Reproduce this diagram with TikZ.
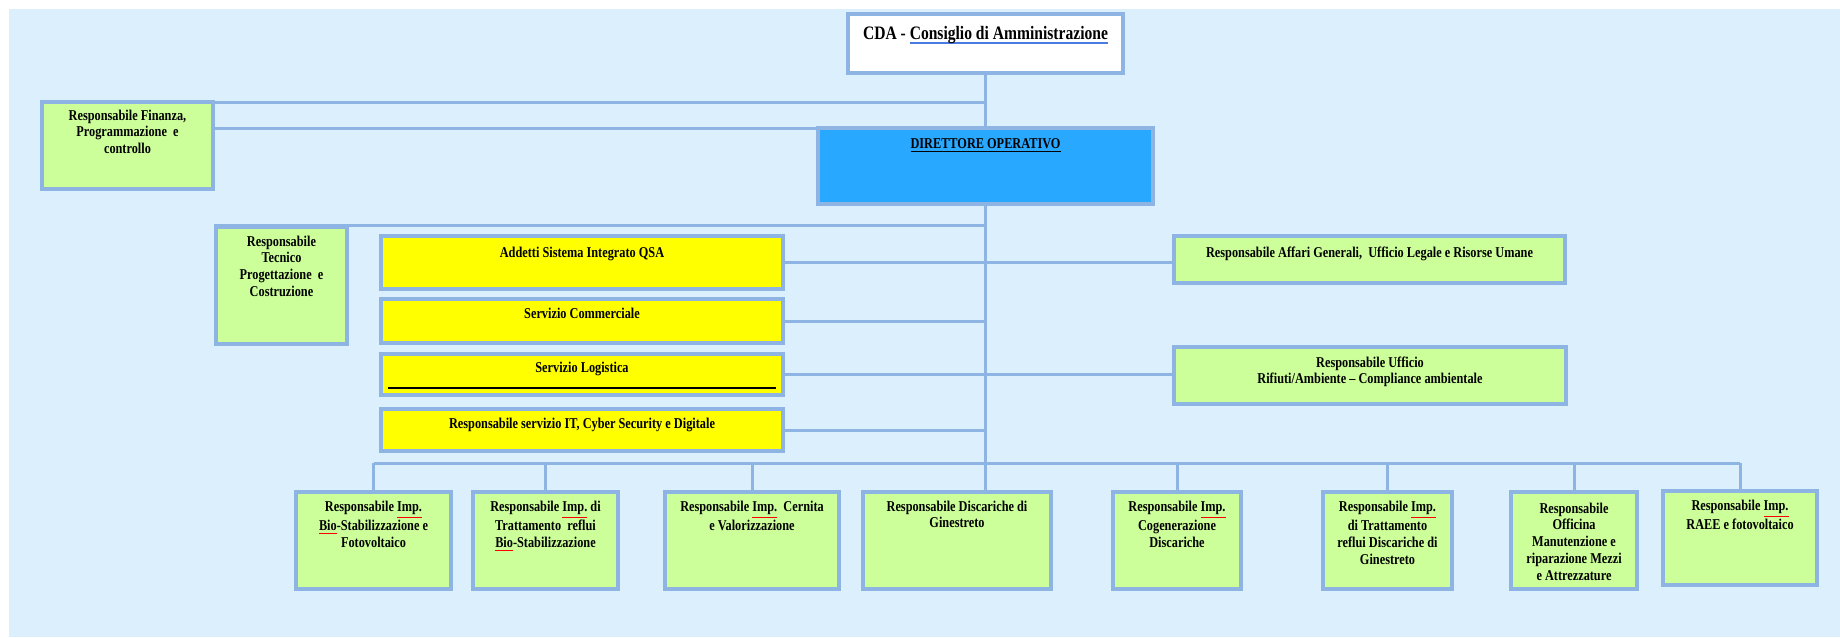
\documentclass[tikz,border=0pt]{standalone}
\usepackage{fontspec}
\setmainfont{Liberation Serif}[FakeStretch=0.82]
\usepackage{tikz}
\usetikzlibrary{positioning}
\definecolor{sheet}{HTML}{DCEFFD}
\definecolor{frameblue}{HTML}{8EB4E3}
\definecolor{leafgreen}{HTML}{CCFF99}
\definecolor{boardyellow}{HTML}{FFFF00}
\definecolor{chiefblue}{HTML}{29A8FF}
\definecolor{linkblue}{HTML}{4A7BE0}
\newcommand{\spell}[1]{{\color{red}\underline{\textcolor{black}{#1}}}}
\newcommand{\blueline}[1]{\setbox0\hbox{#1}\rlap{\color{linkblue}\rule[-2.3pt]{\wd0}{1.1pt}}\box0}

\begin{document}
\begin{tikzpicture}[x=0.5pt, y=-0.5pt,
  orgbox/.style={draw=frameblue, line width=1.8pt, inner sep=0pt},
  greenbox/.style={orgbox, fill=leafgreen},
  yellowbox/.style={orgbox, fill=boardyellow, minimum width=201pt},
  unitbox/.style={greenbox, minimum height=48.5pt},
  boxtext/.style={inner sep=0pt, align=center, font=\fontsize{7.5}{8.4}\selectfont\bfseries},
  link/.style={draw=frameblue, line width=1.5pt}]
  \useasboundingbox (0,0) rectangle (1840,637);
  \fill[sheet] (9,9) rectangle (1840,637);

  % vertice
  \node[orgbox, fill=white, minimum width=137.5pt, minimum height=29.5pt] (cda) at (985.5,43.5) {};
  \node[boxtext, font=\fontsize{9.5}{11}\selectfont\bfseries, below=7pt of cda.north] (cdaT)
    {CDA - \blueline{Consiglio di Amministrazione}};
  \node[greenbox, minimum width=85.5pt, minimum height=43.5pt] (fin) at (127.5,145.5) {};
  \node[boxtext, below=4.5pt of fin.north] (finT) {Responsabile Finanza,\\Programmazione\ \ e\\controllo};
  \node[orgbox, fill=chiefblue, minimum width=167.5pt, minimum height=38pt] (dir) at (985.5,166) {};
  \node[boxtext, below=6pt of dir.north] (dirT) {\underline{DIRETTORE OPERATIVO}};

  % staff
  \node[greenbox, minimum width=65.5pt, minimum height=58.5pt] (tec) at (281.5,285.5) {};
  \node[boxtext, below=5pt of tec.north] (tecT) {Responsabile\\Tecnico\\Progettazione\ \ e\\Costruzione};
  \node[yellowbox, minimum height=26.5pt] (qsa) at (582,262.5) {};
  \node[boxtext, below=6pt of qsa.north] (qsaT) {Addetti Sistema Integrato QSA};
  \node[yellowbox, minimum height=22pt] (comm) at (582,321) {};
  \node[boxtext, below=5pt of comm.north] (commT) {Servizio Commerciale};
  \node[yellowbox, minimum height=20.5pt] (logi) at (582,374.5) {};
  \node[boxtext, below=4.5pt of logi.north] (logiT) {Servizio Logistica};
  \node[yellowbox, minimum height=21pt] (it) at (582,430) {};
  \node[boxtext, below=5pt of it.north] (itT) {Responsabile servizio IT, Cyber Security e Digitale};
  \node[greenbox, minimum width=195.5pt, minimum height=23.5pt] (aff) at (1369.5,259.5) {};
  \node[boxtext, below=6pt of aff.north] (affT) {Responsabile Affari Generali,\ \ Ufficio Legale e Risorse Umane};
  \node[greenbox, minimum width=196pt, minimum height=28.5pt] (rif) at (1370,375.5) {};
  \node[boxtext, below=5.5pt of rif.north] (rifT) {Responsabile Ufficio\\Rifiuti/Ambiente -- Compliance ambientale};

  % impianti
  \node[unitbox, minimum width=77.5pt] (bio) at (373.5,540.5) {};
  \node[boxtext, below=5pt of bio.north] (bioT) {Responsabile \spell{Imp.}\\\spell{Bio}-Stabilizzazione e\\Fotovoltaico};
  \node[unitbox, minimum width=72.5pt] (ref) at (545.5,540.5) {};
  \node[boxtext, below=5pt of ref.north] (refT) {Responsabile \spell{Imp.} di\\Trattamento\ \ reflui\\\spell{Bio}-Stabilizzazione};
  \node[unitbox, minimum width=87pt] (cer) at (752,540.5) {};
  \node[boxtext, below=5pt of cer.north] (cerT) {Responsabile \spell{Imp.}\ \ Cernita\\e Valorizzazione};
  \node[unitbox, minimum width=94pt] (dis) at (957,540.5) {};
  \node[boxtext, below=5pt of dis.north] (disT) {Responsabile Discariche di\\Ginestreto};
  \node[unitbox, minimum width=64pt] (cog) at (1177,540.5) {};
  \node[boxtext, below=5pt of cog.north] (cogT) {Responsabile \spell{Imp.}\\Cogenerazione\\Discariche};
  \node[unitbox, minimum width=64.5pt] (trd) at (1387.5,540.5) {};
  \node[boxtext, below=5pt of trd.north] (trdT) {Responsabile \spell{Imp.}\\di Trattamento\\reflui Discariche di\\Ginestreto};
  \node[unitbox, minimum width=63pt] (off) at (1574,540.5) {};
  \node[boxtext, below=6pt of off.north] (offT) {Responsabile\\Officina\\Manutenzione e\\riparazione Mezzi\\e Attrezzature};
  \node[greenbox, minimum width=77pt, minimum height=47pt] (rae) at (1740,538) {};
  \node[boxtext, below=5pt of rae.north] (raeT) {Responsabile \spell{Imp.}\\RAEE e fotovoltaico};

  \draw[line width=0.8pt] ([xshift=4.5pt,yshift=4.5pt]logi.south west) -- ([xshift=-4.5pt,yshift=4.5pt]logi.south east);

  % collegamenti
  \coordinate (bus) at (985,463);
  \draw[link] (cda.south) -- (dir.north);
  \draw[link] ([yshift=-1pt]fin.north east) -- ([yshift=-1pt]fin.north east -| dir.north);
  \draw[link] ([yshift=-1pt]dir.north west) -- ([yshift=-1pt]dir.north west -| fin.east);
  \draw[link] (dir.south) -- (dir.south |- dis.north);
  \draw[link] (tec.north west) -- (tec.north west -| dir.south);
  \draw[link] (qsa.east) -- (qsa.east -| aff.west);
  \draw[link] (comm.east) -- (comm.east -| dir.south);
  \draw[link] (logi.east) -- (logi.east -| rif.west);
  \draw[link] (it.east) -- (it.east -| dir.south);
  \draw[link] (bio.north |- bus) -- (rae.north |- bus);
  \foreach \u in {bio, ref, cer, cog, trd, off, rae}
    \draw[link] (\u.north) -- (\u.north |- bus);
\end{tikzpicture}
\end{document}
